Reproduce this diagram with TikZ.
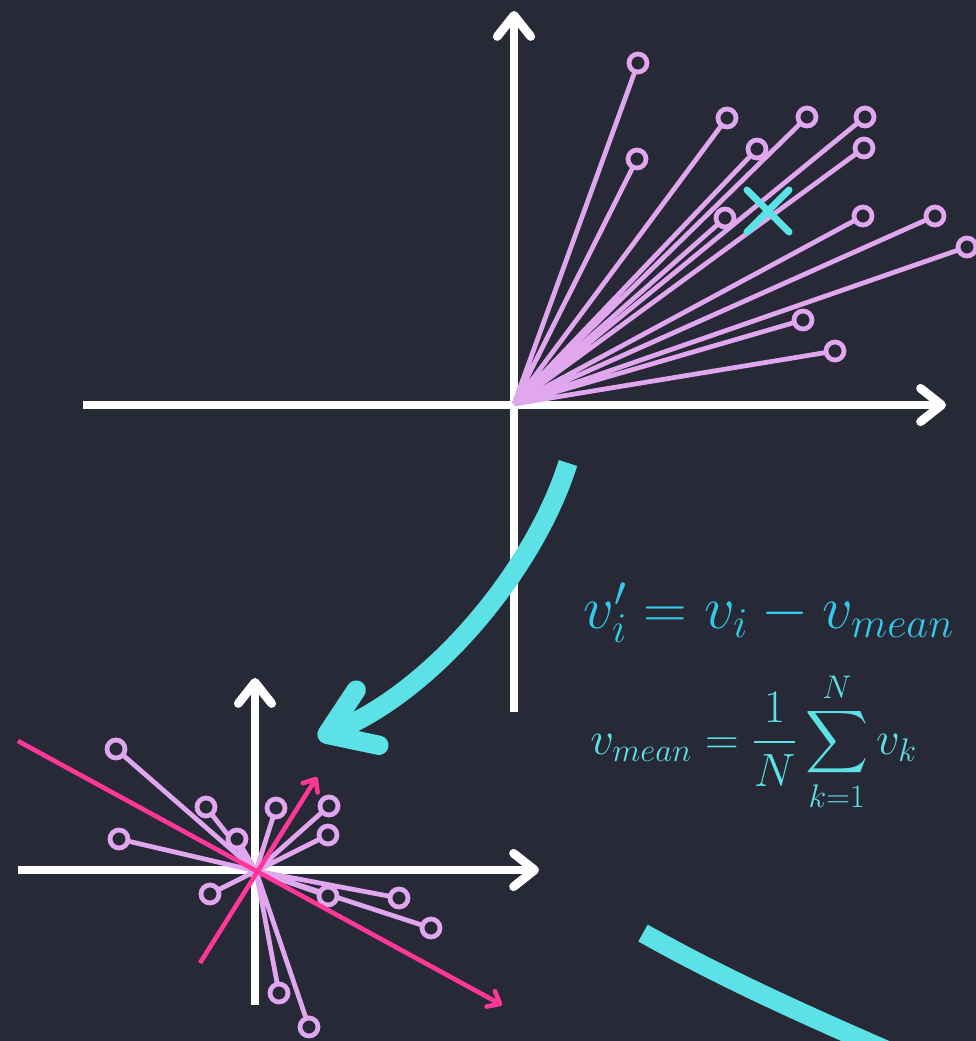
\RequirePackage{fix-cm}
\documentclass[tikz,border=0pt]{standalone}
\usepackage{amsmath}
\usetikzlibrary{arrows.meta}
\definecolor{bgcolor}{HTML}{272937}
\definecolor{vecviolet}{HTML}{E0A7EE}
\definecolor{pcpink}{HTML}{FF3797}
\definecolor{meancyan}{HTML}{5CE1E6}
\definecolor{eqblue}{HTML}{33C9EA}

\begin{document}
\begin{tikzpicture}[
  x=0.02cm, y=-0.02cm,
  axis/.style={white, line width=5pt, -{Straight Barb[length=12pt, width=19pt, round]}},
  vec/.style={vecviolet, line width=2.7pt},
  tipring/.style={circle, draw=vecviolet, line width=2.7pt, fill=bgcolor, minimum size=0.36cm, inner sep=0pt},
  pc/.style={pcpink, line width=2.6pt, -{Straight Barb[length=6pt, width=10pt, round]}},
  flow/.style={meancyan, line width=11pt},
  cross/.style={meancyan, line width=4pt, line cap=round},
  eq/.style={inner sep=0pt, anchor=base west}
]
  \path[use as bounding box, fill=bgcolor] (0,0) rectangle (976,1041);
  \clip (0,0) rectangle (976,1041);

  % Grafico in alto: vettori originali
  \coordinate (O) at (514,404);
  \coordinate (xl) at (83,405);  \coordinate (xr) at (946,405);
  \coordinate (yb) at (514,712); \coordinate (yt) at (514,11);
  \draw[axis] (xl) -- (xr);
  \draw[axis] (yb) -- (yt);

  \coordinate (a1) at (638,63);  \coordinate (a2) at (727,118);  \coordinate (a3) at (807,117);
  \coordinate (a4) at (865,117); \coordinate (a5) at (637,159);  \coordinate (a6) at (757,149);
  \coordinate (a7) at (864,148); \coordinate (a8) at (725,218);  \coordinate (a9) at (863,216);
  \coordinate (a10) at (935,216); \coordinate (a11) at (967,247); \coordinate (a12) at (803,320);
  \coordinate (a13) at (835,351);
  \draw[vec] (O) -- (a1) (O) -- (a2) (O) -- (a3) (O) -- (a4) (O) -- (a5) (O) -- (a6) (O) -- (a7);
  \draw[vec] (O) -- (a8) (O) -- (a9) (O) -- (a10) (O) -- (a11) (O) -- (a12) (O) -- (a13);
  \node[tipring] (A1) at (a1) {};   \node[tipring] (A2) at (a2) {};   \node[tipring] (A3) at (a3) {};
  \node[tipring] (A4) at (a4) {};   \node[tipring] (A5) at (a5) {};   \node[tipring] (A6) at (a6) {};
  \node[tipring] (A7) at (a7) {};   \node[tipring] (A8) at (a8) {};   \node[tipring] (A9) at (a9) {};
  \node[tipring] (A10) at (a10) {}; \node[tipring] (A11) at (a11) {}; \node[tipring] (A12) at (a12) {};
  \node[tipring] (A13) at (a13) {};

  % Media (croce)
  \coordinate (m) at (768,211);
  \draw[cross] (m) ++(-21,-21) -- ++(42,42) (m) ++(21,-21) -- ++(-42,42);

  % Freccia di centratura
  \coordinate (fs) at (568,463); \coordinate (fe) at (318,738);
  \draw[flow, -{Straight Barb[length=25pt, width=34pt, round]}] (fs) .. controls (535,568) and (435,690) .. (fe);

  % Formule
  \node[eq, text=eqblue, font=\fontsize{34.5}{40}\selectfont] (shift) at (583,628) {$v'_i = v_i - v_{mean}$};
  \node[eq, text=meancyan, font=\fontsize{26.6}{30}\selectfont] (mean) at (590,754) {$\displaystyle v_{mean} = \frac{1}{N}\sum_{k=1}^{N} v_k$};

  % Grafico in basso: vettori centrati
  \coordinate (O2) at (256,871);
  \coordinate (ul) at (18,870);  \coordinate (ur) at (539,870);
  \coordinate (vb) at (255,1005); \coordinate (vt) at (255,678);
  \draw[axis] (ul) -- (ur);
  \draw[axis] (vb) -- (vt);

  \coordinate (b1) at (116,749);  \coordinate (b2) at (206,807);  \coordinate (b3) at (237,839);
  \coordinate (b4) at (119,839);  \coordinate (b5) at (276,808);  \coordinate (b6) at (329,806);
  \coordinate (b7) at (328,835);  \coordinate (b8) at (210,894);  \coordinate (b9) at (328,896);
  \coordinate (b10) at (399,898); \coordinate (b11) at (431,928); \coordinate (b12) at (279,993);
  \coordinate (b13) at (309,1027);
  \draw[vec] (O2) -- (b1) (O2) -- (b2) (O2) -- (b3) (O2) -- (b4) (O2) -- (b5) (O2) -- (b6) (O2) -- (b7);
  \draw[vec] (O2) -- (b8) (O2) -- (b9) (O2) -- (b10) (O2) -- (b11) (O2) -- (b12) (O2) -- (b13);
  \node[tipring] (B1) at (b1) {};   \node[tipring] (B2) at (b2) {};   \node[tipring] (B3) at (b3) {};
  \node[tipring] (B4) at (b4) {};   \node[tipring] (B5) at (b5) {};   \node[tipring] (B6) at (b6) {};
  \node[tipring] (B7) at (b7) {};   \node[tipring] (B8) at (b8) {};   \node[tipring] (B9) at (b9) {};
  \node[tipring] (B10) at (b10) {}; \node[tipring] (B11) at (b11) {}; \node[tipring] (B12) at (b12) {};
  \node[tipring] (B13) at (b13) {};

  % Componenti principali
  \coordinate (p1s) at (18,741);  \coordinate (p1e) at (502,1005);
  \coordinate (p2s) at (200,963); \coordinate (p2e) at (317,777);
  \draw[pc] (p1s) -- (p1e);
  \draw[pc] (p2s) -- (p2e);

  % Freccia in basso a destra
  \coordinate (gs) at (643,933); \coordinate (ge) at (960,1082);
  \draw[flow] (gs) .. controls (730,982) and (820,1022) .. (ge);
\end{tikzpicture}
\end{document}
